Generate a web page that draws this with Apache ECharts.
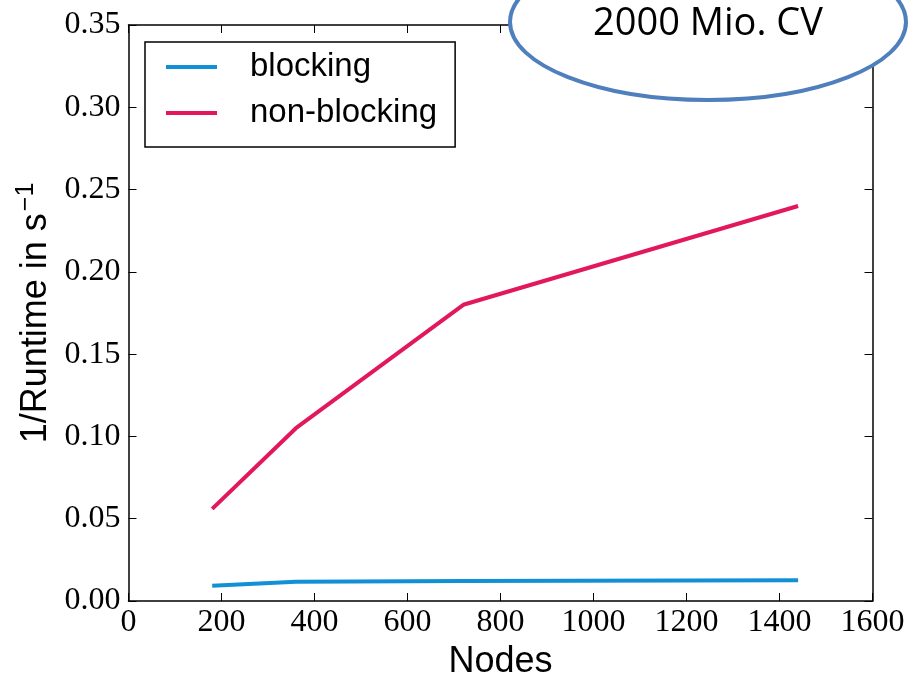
<!DOCTYPE html>
<html><head><meta charset="utf-8">
<script src="https://cdn.jsdelivr.net/npm/echarts@6/dist/echarts.min.js"></script>
<style>html,body{margin:0;padding:0;background:#fff}#c{width:919px;height:675px}</style>
</head><body><div id="c"></div>
<script>
const nodes = [180, 360, 720, 1440];
const blocking = [0.0093, 0.0117, 0.0121, 0.0126];
const nonBlocking = [0.056, 0.105, 0.180, 0.240];
const seriesNames = ['blocking', 'non-blocking'];
const xTicks = {min: 0, max: 1600, interval: 200};
const yTicks = {min: 0, max: 0.35, interval: 0.05};
const annotation = '2000 Mio. CV';

const chart = echarts.init(document.getElementById('c'));
const serif = '"Liberation Serif", serif';
const sans = '"Liberation Sans", Arial, sans-serif';
const tickStyle = {show: true, inside: true, length: 8, lineStyle: {color: '#000', width: 1}};
const lineStyle = {color: '#000', width: 1.5};
chart.setOption({
  animation: false,
  grid: {left: 128.5, right: 46.5, top: 25, bottom: 74, show: false,
         containLabel: false, outerBoundsMode: 'none'},
  legend: {
    orient: 'vertical', left: 145, top: 42,
    padding: [8, 18, 17, 21], itemGap: 12,
    itemWidth: 51, itemHeight: 4, icon: 'rect',
    borderColor: '#000', borderWidth: 1.5, borderRadius: 0,
    textStyle: {fontFamily: sans, fontSize: 33, color: '#000', padding: [0, 0, 0, 28], lineHeight: 34},
    data: seriesNames
  },
  xAxis: [
    {type: 'value', position: 'bottom', ...xTicks,
     name: 'Nodes', nameLocation: 'middle', nameGap: 38,
     nameTextStyle: {fontFamily: sans, fontSize: 36, color: '#000'},
     axisLine: {show: true, onZero: false, lineStyle}, axisTick: tickStyle,
     axisLabel: {fontFamily: serif, fontSize: 32, color: '#000', margin: 6,
                 formatter: v => String(v)},
     splitLine: {show: false}},
    {type: 'value', position: 'top', ...xTicks,
     axisLine: {show: true, onZero: false, lineStyle}, axisTick: tickStyle,
     axisLabel: {show: false}, splitLine: {show: false}}
  ],
  yAxis: [
    {type: 'value', position: 'left', ...yTicks,
     name: '{a|1/Runtime in s}{b|−1}', nameLocation: 'middle', nameGap: 58,
     nameTextStyle: {rich: {
       a: {fontFamily: sans, fontSize: 36, color: '#000'},
       b: {fontFamily: sans, fontSize: 25, color: '#000', verticalAlign: 'top', padding: [0, 0, 18, 2]}
     }},
     axisLine: {show: true, onZero: false, lineStyle}, axisTick: tickStyle,
     axisLabel: {fontFamily: serif, fontSize: 32, color: '#000', margin: 8,
                 formatter: v => v.toFixed(2)},
     splitLine: {show: false}},
    {type: 'value', position: 'right', ...yTicks,
     axisLine: {show: true, onZero: false, lineStyle}, axisTick: tickStyle,
     axisLabel: {show: false}, splitLine: {show: false}}
  ],
  series: [
    {name: seriesNames[0], type: 'line', symbol: 'none', xAxisIndex: 0, yAxisIndex: 0,
     data: nodes.map((n, i) => [n, blocking[i]]),
     lineStyle: {color: '#1190d6', width: 4}, itemStyle: {color: '#1190d6'}},
    {name: seriesNames[1], type: 'line', symbol: 'none', xAxisIndex: 0, yAxisIndex: 0,
     data: nodes.map((n, i) => [n, nonBlocking[i]]),
     lineStyle: {color: '#e2185b', width: 4}, itemStyle: {color: '#e2185b'}}
  ],
  graphic: [
    {type: 'ellipse', z: 100, shape: {cx: 708, cy: 22, rx: 198, ry: 78},
     style: {fill: '#fff', stroke: '#4f7fbc', lineWidth: 4}},
    {type: 'text', z: 101, x: 708, y: 24,
     style: {text: annotation, font: '38px "Open Sans"', fill: '#000', textAlign: 'center', textVerticalAlign: 'middle'}}
  ]
});
</script></body></html>
